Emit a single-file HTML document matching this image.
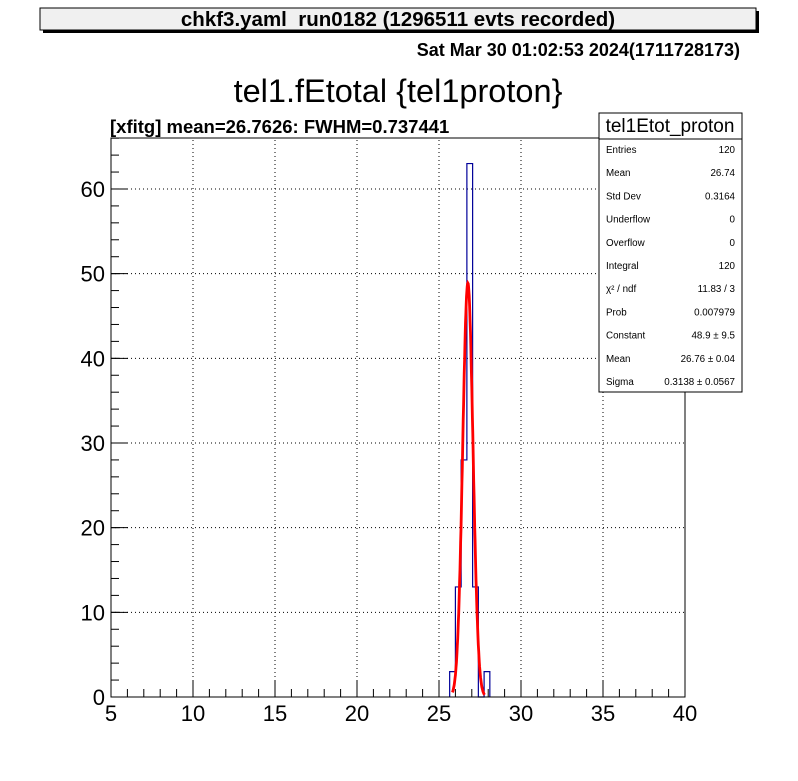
<!DOCTYPE html>
<html><head><meta charset="utf-8"><style>
body{margin:0;background:#fff;}
svg text{font-family:"Liberation Sans",sans-serif;}
</style></head><body>
<svg id="c" width="798" height="776" xmlns="http://www.w3.org/2000/svg">
<rect x="0" y="0" width="798" height="776" fill="#fff"/>
<rect x="43" y="11" width="716" height="22" fill="#000"/>
<rect x="40" y="8" width="716" height="22" fill="#f0f0f0" stroke="#000"/>
<text x="398" y="26" font-size="20.5" font-weight="bold" text-anchor="middle">chkf3.yaml&#160; run0182 (1296511 evts recorded)</text>
<text x="740" y="56" font-size="18" font-weight="bold" text-anchor="end">Sat Mar 30 01:02:53 2024(1711728173)</text>
<text x="398" y="102" font-size="32.5" text-anchor="middle">tel1.fEtotal {tel1proton}</text>
<text x="110" y="133" font-size="18.5" font-weight="bold">[xfitg] mean=26.7626: FWHM=0.737441</text>
<g id="grid"></g>
<g id="hist"></g>
<g id="fit"></g>
<rect x="111" y="138" width="574" height="559" fill="none" stroke="#000"/>
<g id="axes"></g>
<g>
<rect x="599" y="113" width="143" height="279" fill="#fff" stroke="#000"/>
<line x1="599" y1="139" x2="742" y2="139" stroke="#000"/>
<text x="670" y="132" font-size="19" text-anchor="middle">tel1Etot_proton</text>
<g id="stats" font-size="9.8"></g>
</g>
</svg>
<script>
const binEdgesStart = 25.65;
const binWidth = 0.35;
const binCounts = [3, 13, 28, 63, 13, 0, 3];
const fitConstant = 48.9, fitMean = 26.76, fitSigma = 0.3138;
const xTicks = [5,10,15,20,25,30,35,40];
const yTicks = [0,10,20,30,40,50,60];
const statLabels = ["Entries","Mean","Std Dev","Underflow","Overflow","Integral","χ² / ndf","Prob","Constant","Mean","Sigma"];
const statValues = ["120","26.74","0.3164","0","0","120","11.83 / 3","0.007979","48.9 ± 9.5","26.76 ± 0.04","0.3138 ± 0.0567"];
const NS="http://www.w3.org/2000/svg";
const X0=111,X1=685,Y0=697,Y1=138;
const xs=v=>X0+(v-5)/35*(X1-X0);
const ys=v=>Y0-v*8.467;
function mk(t,a,p){const e=document.createElementNS(NS,t);for(const k in a)e.setAttribute(k,a[k]);p.appendChild(e);return e;}
const grid=document.getElementById('grid'),axes=document.getElementById('axes');
xTicks.forEach(v=>{if(v>5&&v<40){const g=mk('line',{x1:xs(v),x2:xs(v),y1:Y0,y2:Y1,stroke:'#000','stroke-dasharray':'1,3'},grid);}
 const t=mk('line',{x1:xs(v),x2:xs(v),y1:Y0,y2:Y0-17,stroke:'#000'},axes);
 const l=mk('text',{x:xs(v),y:Y0+24,'font-size':22,'text-anchor':'middle'},axes);l.textContent=v;
 });
for(let v=5;v<=40;v+=1){mk('line',{x1:xs(v),x2:xs(v),y1:Y0,y2:Y0-8,stroke:'#000'},axes);}
yTicks.forEach(v=>{if(v>0){const g=mk('line',{x1:X0,x2:X1,y1:ys(v),y2:ys(v),stroke:'#000','stroke-dasharray':'1,3'},grid);}
 mk('line',{x1:X0,x2:X0+17,y1:ys(v),y2:ys(v),stroke:'#000'},axes);
 const l=mk('text',{x:X0-6,y:ys(v)+8,'font-size':22,'text-anchor':'end'},axes);l.textContent=v;
 });
for(let v=0;v<=66;v+=2){mk('line',{x1:X0,x2:X0+8,y1:ys(v),y2:ys(v),stroke:'#000'},axes);}
let d=`M${xs(binEdgesStart)},${ys(0)}`;
binCounts.forEach((c,i)=>{const a=binEdgesStart+i*binWidth;d+=` L${xs(a)},${ys(c)} L${xs(a+binWidth)},${ys(c)}`;});
d+=` L${xs(binEdgesStart+binCounts.length*binWidth)},${ys(0)}`;
const h=mk('path',{d:d,fill:'none',stroke:'#000099','stroke-width':1.2},document.getElementById('hist'));

let pts=[];for(let x=fitMean-3*fitSigma;x<=fitMean+3.3*fitSigma;x+=0.02){pts.push(xs(x).toFixed(1)+','+ys(fitConstant*Math.exp(-0.5*((x-fitMean)/fitSigma)**2)).toFixed(1));}
const f=mk('polyline',{points:pts.join(' '),fill:'none',stroke:'#ff0000','stroke-width':2.8},document.getElementById('fit'));

const st=document.getElementById('stats');
statLabels.forEach((s,i)=>{const y=153+i*23.2;
 const a=mk('text',{x:606,y:y},st);a.textContent=s;
 const b=mk('text',{x:735,y:y,'text-anchor':'end'},st);b.textContent=statValues[i];});
</script>
</body></html>
